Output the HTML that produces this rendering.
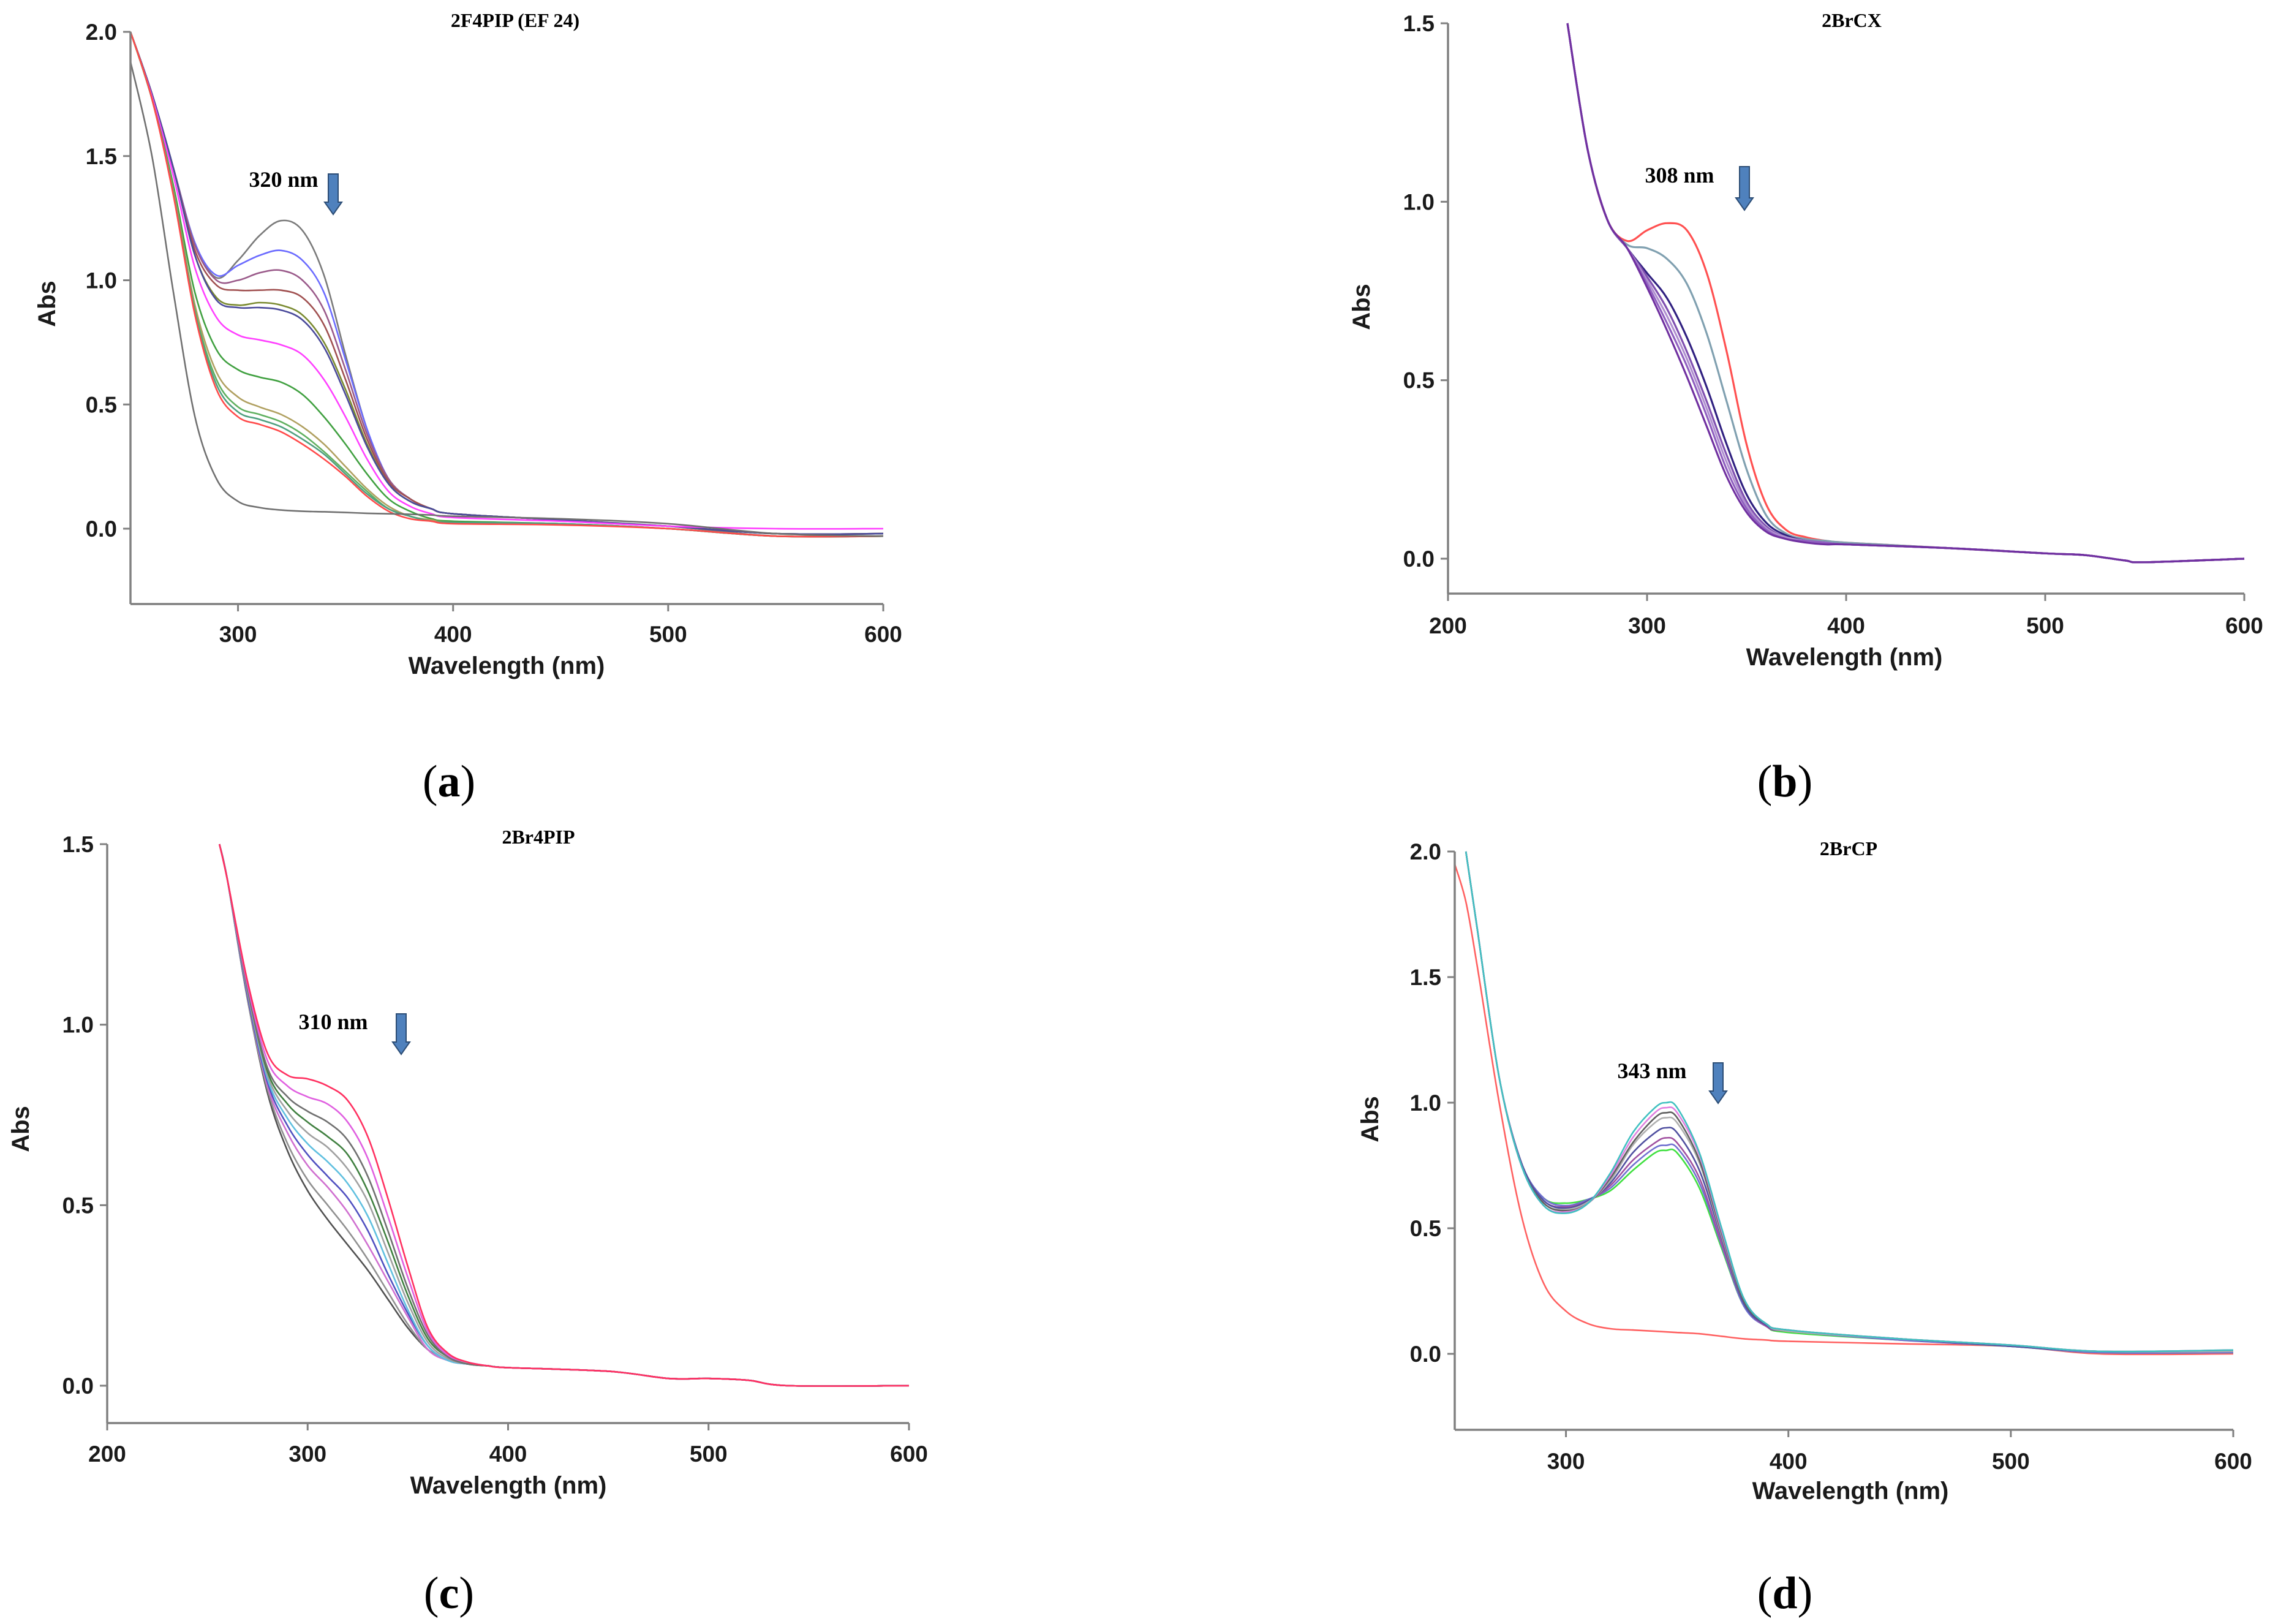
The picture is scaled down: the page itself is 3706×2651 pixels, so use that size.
<!DOCTYPE html>
<html><head><meta charset="utf-8">
<style>
html,body{margin:0;padding:0;background:#fff;}
svg{display:block;}
.tick{font-family:"Liberation Sans",sans-serif;font-weight:bold;font-size:37px;fill:#1a1a1a;}
.axt{font-family:"Liberation Sans",sans-serif;font-weight:bold;font-size:40px;fill:#1a1a1a;}
.ttl{font-family:"Liberation Serif",serif;font-weight:bold;font-size:32px;fill:#000;}
.ann{font-family:"Liberation Serif",serif;font-weight:bold;font-size:36px;fill:#000;}
.plab{font-family:"Liberation Serif",serif;font-size:74px;fill:#000;}
</style></head>
<body>
<svg id="fig" xmlns="http://www.w3.org/2000/svg" width="3706" height="2651" viewBox="0 0 3706 2651"></svg>
<script>
// ---------- Panel (a) 2F4PIP (EF 24) ----------
const waveA = [250,260,270,280,290,300,310,320,330,340,350,360,370,380,390,400,450,500,550,600];
const a1 = [2.0,1.75,1.45,1.15,1.01,1.08,1.18,1.24,1.2,1.02,0.7,0.4,0.2,0.12,0.08,0.06,0.035,0.01,-0.03,-0.03];
const a2 = [2.0,1.75,1.45,1.15,1.02,1.06,1.1,1.12,1.08,0.95,0.68,0.4,0.2,0.12,0.08,0.06,0.035,0.01,-0.02,-0.02];
const a3 = [2.0,1.75,1.45,1.14,1.0,1.0,1.03,1.04,1.0,0.88,0.64,0.38,0.2,0.12,0.08,0.06,0.035,0.01,-0.02,-0.02];
const a4 = [2.0,1.75,1.45,1.12,0.98,0.96,0.96,0.96,0.93,0.82,0.6,0.36,0.19,0.12,0.08,0.06,0.035,0.01,-0.02,-0.02];
const a5 = [2.0,1.75,1.45,1.1,0.93,0.9,0.91,0.9,0.86,0.75,0.56,0.34,0.18,0.11,0.08,0.06,0.035,0.01,-0.02,-0.02];
const a6 = [2.0,1.75,1.45,1.1,0.92,0.89,0.89,0.88,0.84,0.73,0.54,0.33,0.18,0.11,0.08,0.06,0.035,0.01,-0.02,-0.02];
const a7 = [2.0,1.74,1.42,1.05,0.85,0.78,0.76,0.74,0.7,0.6,0.45,0.28,0.15,0.09,0.06,0.045,0.03,0.01,0.0,0.0];
const a8 = [2.0,1.73,1.38,0.95,0.72,0.64,0.61,0.59,0.54,0.45,0.34,0.22,0.12,0.07,0.04,0.03,0.02,0.0,-0.03,-0.03];
const a9 = [2.0,1.73,1.36,0.9,0.63,0.53,0.49,0.46,0.41,0.34,0.25,0.16,0.09,0.05,0.035,0.025,0.02,0.0,-0.03,-0.03];
const a10 = [2.0,1.73,1.35,0.88,0.6,0.49,0.46,0.43,0.38,0.31,0.23,0.15,0.08,0.05,0.03,0.025,0.02,0.0,-0.03,-0.03];
const a11 = [2.0,1.73,1.35,0.87,0.58,0.47,0.44,0.41,0.36,0.3,0.22,0.14,0.08,0.05,0.03,0.025,0.02,0.0,-0.03,-0.03];
const a12 = [2.0,1.73,1.34,0.86,0.56,0.45,0.42,0.39,0.34,0.28,0.21,0.13,0.07,0.04,0.03,0.02,0.015,0.0,-0.03,-0.03];
const a13 = [1.88,1.5,0.95,0.45,0.2,0.11,0.085,0.075,0.07,0.068,0.065,0.062,0.06,0.058,0.055,0.05,0.04,0.02,-0.02,-0.03];
const xTicksA = [300,400,500,600];
const yTicksA = [0.0,0.5,1.0,1.5,2.0];
const yLabelsA = ["0.0","0.5","1.0","1.5","2.0"];

// ---------- Panel (b) 2BrCX ----------
const waveB = [260,270,280,290,300,310,320,330,340,350,360,370,380,390,400,450,500,520,540,550,600];
const b1 = [1.5,1.15,0.95,0.89,0.92,0.94,0.92,0.8,0.58,0.32,0.15,0.08,0.06,0.05,0.045,0.03,0.015,0.01,-0.005,-0.01,0.0];
const b2 = [1.5,1.15,0.95,0.88,0.87,0.84,0.77,0.63,0.44,0.25,0.12,0.07,0.055,0.05,0.045,0.03,0.015,0.01,-0.005,-0.01,0.0];
const b3 = [1.5,1.15,0.95,0.87,0.8,0.73,0.62,0.48,0.32,0.18,0.1,0.065,0.05,0.045,0.04,0.03,0.015,0.01,-0.005,-0.01,0.0];
const b4 = [1.5,1.15,0.95,0.87,0.79,0.7,0.58,0.44,0.29,0.16,0.09,0.06,0.05,0.045,0.04,0.03,0.015,0.01,-0.005,-0.01,0.0];
const b5 = [1.5,1.15,0.95,0.87,0.78,0.68,0.56,0.42,0.27,0.15,0.085,0.06,0.05,0.045,0.04,0.03,0.015,0.01,-0.005,-0.01,0.0];
const b6 = [1.5,1.15,0.95,0.87,0.77,0.66,0.54,0.4,0.25,0.14,0.08,0.055,0.05,0.045,0.04,0.03,0.015,0.01,-0.005,-0.01,0.0];
const b7 = [1.5,1.15,0.95,0.87,0.76,0.64,0.51,0.37,0.23,0.13,0.075,0.055,0.045,0.04,0.04,0.03,0.015,0.01,-0.005,-0.01,0.0];
const xTicksB = [200,300,400,500,600];
const yTicksB = [0.0,0.5,1.0,1.5];
const yLabelsB = ["0.0","0.5","1.0","1.5"];

// ---------- Panel (c) 2Br4PIP ----------
const waveC = [256,260,270,280,290,300,310,320,330,340,350,360,370,380,390,400,450,480,500,520,540,600];
const c1 = [1.5,1.4,1.12,0.92,0.86,0.85,0.83,0.79,0.69,0.52,0.33,0.16,0.09,0.065,0.055,0.05,0.04,0.02,0.02,0.015,0.0,0.0];
const c2 = [1.5,1.4,1.11,0.9,0.83,0.8,0.78,0.73,0.63,0.47,0.3,0.15,0.085,0.065,0.055,0.05,0.04,0.02,0.02,0.015,0.0,0.0];
const c3 = [1.5,1.4,1.1,0.88,0.8,0.76,0.73,0.68,0.58,0.43,0.27,0.14,0.08,0.06,0.055,0.05,0.04,0.02,0.02,0.015,0.0,0.0];
const c4 = [1.5,1.4,1.1,0.87,0.78,0.73,0.69,0.64,0.54,0.4,0.25,0.13,0.08,0.06,0.055,0.05,0.04,0.02,0.02,0.015,0.0,0.0];
const c5 = [1.5,1.4,1.09,0.86,0.76,0.7,0.66,0.6,0.51,0.37,0.23,0.12,0.075,0.06,0.055,0.05,0.04,0.02,0.02,0.015,0.0,0.0];
const c6 = [1.5,1.4,1.09,0.85,0.74,0.67,0.62,0.56,0.47,0.34,0.21,0.11,0.07,0.06,0.055,0.05,0.04,0.02,0.02,0.015,0.0,0.0];
const c7 = [1.5,1.4,1.08,0.84,0.72,0.64,0.58,0.52,0.43,0.31,0.2,0.11,0.07,0.06,0.055,0.05,0.04,0.02,0.02,0.015,0.0,0.0];
const c8 = [1.5,1.4,1.08,0.83,0.7,0.61,0.55,0.48,0.39,0.29,0.19,0.1,0.07,0.06,0.055,0.05,0.04,0.02,0.02,0.015,0.0,0.0];
const c9 = [1.5,1.4,1.07,0.82,0.67,0.57,0.5,0.43,0.35,0.26,0.17,0.1,0.07,0.06,0.055,0.05,0.04,0.02,0.02,0.015,0.0,0.0];
const c10 = [1.5,1.4,1.07,0.81,0.65,0.54,0.46,0.39,0.32,0.24,0.16,0.1,0.07,0.06,0.055,0.05,0.04,0.02,0.02,0.015,0.0,0.0];
const xTicksC = [200,300,400,500,600];
const yTicksC = [0.0,0.5,1.0,1.5];
const yLabelsC = ["0.0","0.5","1.0","1.5"];

// ---------- Panel (d) 2BrCP ----------
const waveD = [255,260,270,280,290,300,310,320,330,340,345,350,360,370,380,390,400,450,500,540,600];
const d1 = [2.0,1.7,1.1,0.75,0.59,0.56,0.6,0.72,0.88,0.98,1.0,0.98,0.8,0.5,0.22,0.12,0.095,0.06,0.035,0.01,0.015];
const d2 = [2.0,1.7,1.1,0.75,0.59,0.565,0.6,0.71,0.86,0.96,0.98,0.96,0.79,0.49,0.22,0.12,0.095,0.06,0.035,0.01,0.015];
const d3 = [2.0,1.7,1.1,0.75,0.6,0.57,0.6,0.7,0.84,0.94,0.96,0.94,0.77,0.48,0.21,0.12,0.095,0.06,0.035,0.01,0.015];
const d4 = [2.0,1.7,1.1,0.75,0.6,0.575,0.605,0.69,0.83,0.92,0.94,0.92,0.76,0.47,0.21,0.12,0.09,0.06,0.035,0.01,0.01];
const d5 = [2.0,1.7,1.1,0.76,0.61,0.58,0.61,0.68,0.8,0.88,0.9,0.88,0.73,0.46,0.2,0.115,0.09,0.06,0.03,0.01,0.01];
const d6 = [2.0,1.7,1.1,0.76,0.61,0.585,0.61,0.67,0.77,0.84,0.86,0.84,0.7,0.44,0.2,0.11,0.09,0.06,0.03,0.01,0.01];
const d7 = [2.0,1.7,1.1,0.76,0.62,0.59,0.615,0.66,0.75,0.82,0.83,0.82,0.68,0.43,0.19,0.11,0.09,0.055,0.03,0.005,0.005];
const d8 = [2.0,1.7,1.1,0.76,0.62,0.6,0.615,0.65,0.73,0.8,0.81,0.8,0.66,0.42,0.19,0.11,0.085,0.055,0.03,0.005,0.005];
const waveDRef = [250,255,260,270,280,290,300,310,320,330,340,350,360,370,380,390,400,450,500,540,600];
const dRef = [1.95,1.8,1.55,1.0,0.55,0.28,0.17,0.12,0.1,0.095,0.09,0.085,0.08,0.07,0.06,0.055,0.05,0.04,0.03,0.0,0.0];
const xTicksD = [300,400,500,600];
const yTicksD = [0.0,0.5,1.0,1.5,2.0];
const yLabelsD = ["0.0","0.5","1.0","1.5","2.0"];

const NS = "http://www.w3.org/2000/svg";
const svg = document.getElementById("fig");
function mk(tag, attrs, parent){
  const e = document.createElementNS(NS, tag);
  for (const k in attrs) e.setAttribute(k, attrs[k]);
  (parent||svg).appendChild(e);
  return e;
}
function smooth(pts){
  let d = "M" + pts[0][0].toFixed(1) + "," + pts[0][1].toFixed(1);
  for (let i = 0; i < pts.length - 1; i++){
    const p0 = pts[Math.max(0,i-1)], p1 = pts[i], p2 = pts[i+1], p3 = pts[Math.min(pts.length-1,i+2)];
    const c1x = p1[0] + (p2[0]-p0[0])/6, c1y = p1[1] + (p2[1]-p0[1])/6;
    const c2x = p2[0] - (p3[0]-p1[0])/6, c2y = p2[1] - (p3[1]-p1[1])/6;
    d += " C" + c1x.toFixed(1)+","+c1y.toFixed(1)+" "+c2x.toFixed(1)+","+c2y.toFixed(1)+" "+p2[0].toFixed(1)+","+p2[1].toFixed(1);
  }
  return d;
}

const panels = [
 {id:"a", title:"2F4PIP (EF 24)", titleX:841, titleY:44, x0:213, x1:1442, xmin:250, xmax:600, yTop:52, y0v:2.0, yZero:863, yBot:986, ymin:-0.3,
  xTicks:xTicksA, yTicks:yTicksA, yLabels:yLabelsA, xLabY:1048, absX:76, absY:496, wlX:827, wlY:1100, lw:2.6,
  series:[[waveA,a1,"#7a7a7a"],[waveA,a2,"#6b6bff"],[waveA,a3,"#9a5a8a"],[waveA,a4,"#a05050"],[waveA,a5,"#7a8a30"],[waveA,a6,"#4a4a9a"],[waveA,a7,"#ff40ff"],[waveA,a8,"#40a040"],[waveA,a9,"#b0a060"],[waveA,a10,"#60b060"],[waveA,a11,"#50a080"],[waveA,a12,"#ff4a4a"],[waveA,a13,"#707070"]],
  ann:"320 nm", annX:463, annY:305, arX:544, arY1:284, arY2:350, plab:"a", plX:733, plY:1300},
 {id:"b", title:"2BrCX", titleX:3023, titleY:44, x0:2364, x1:3664, xmin:200, xmax:600, yTop:38, y0v:1.5, yZero:912, yBot:969, ymin:-0.1,
  xTicks:xTicksB, yTicks:yTicksB, yLabels:yLabelsB, xLabY:1034, absX:2222, absY:501, wlX:3011, wlY:1086, lw:3.2,
  series:[[waveB,b1,"#ff5050"],[waveB,b2,"#80a0b0"],[waveB,b3,"#302080"],[waveB,b4,"#8050b0"],[waveB,b5,"#b090d0"],[waveB,b6,"#9060c0"],[waveB,b7,"#7030a0"]],
  ann:"308 nm", annX:2742, annY:298, arX:2848, arY1:272, arY2:343, plab:"b", plX:2914, plY:1300},
 {id:"c", title:"2Br4PIP", titleX:879, titleY:1377, x0:175, x1:1484, xmin:200, xmax:600, yTop:1378, y0v:1.5, yZero:2262, yBot:2323, ymin:-0.1,
  xTicks:xTicksC, yTicks:yTicksC, yLabels:yLabelsC, xLabY:2386, absX:33, absY:1843, wlX:830, wlY:2438, lw:2.6,
  series:[[waveC,c10,"#505050"],[waveC,c9,"#909090"],[waveC,c8,"#d070d0"],[waveC,c7,"#5050c0"],[waveC,c6,"#60c0e0"],[waveC,c5,"#a0a0a0"],[waveC,c4,"#408040"],[waveC,c3,"#707070"],[waveC,c2,"#e060e0"],[waveC,c1,"#ff3060"]],
  ann:"310 nm", annX:544, annY:1680, arX:655, arY1:1655, arY2:1721, plab:"c", plX:733, plY:2625},
 {id:"d", title:"2BrCP", titleX:3018, titleY:1396, x0:2375, x1:3646, xmin:250, xmax:600, yTop:1390, y0v:2.0, yZero:2210, yBot:2334, ymin:-0.3,
  xTicks:xTicksD, yTicks:yTicksD, yLabels:yLabelsD, xLabY:2398, absX:2236, absY:1827, wlX:3021, wlY:2447, lw:2.6,
  series:[[waveDRef,dRef,"#ff6060"],[waveD,d8,"#40e040"],[waveD,d7,"#7070d0"],[waveD,d6,"#a050a0"],[waveD,d5,"#5050a0"],[waveD,d4,"#b0b0b0"],[waveD,d3,"#606060"],[waveD,d2,"#e080e0"],[waveD,d1,"#40c0c0"]],
  ann:"343 nm", annX:2697, annY:1760, arX:2805, arY1:1735, arY2:1801, plab:"d", plX:2914, plY:2625}
];

panels.forEach(p => {
  const g = mk("g", {});
  
  
  const X = v => p.x0 + (v - p.xmin) / (p.xmax - p.xmin) * (p.x1 - p.x0);
  const Y = v => p.yZero - v / p.y0v * (p.yZero - p.yTop);
  p.series.forEach((s, i) => {
    const pts = s[0].map((w, k) => [X(w), Y(s[1][k])]);
    const path = mk("path", {d: smooth(pts), fill:"none", stroke:s[2], "stroke-width":p.lw}, g);
    
    
  });
  const ya = mk("line", {x1:p.x0, y1:p.yTop, x2:p.x0, y2:p.yBot, stroke:"#808080", "stroke-width":3.5}, g);
  
  
  const xa = mk("line", {x1:p.x0, y1:p.yBot, x2:p.x1, y2:p.yBot, stroke:"#808080", "stroke-width":3.5}, g);
  
  
  p.yTicks.forEach((v, i) => {
    mk("line", {x1:p.x0-12, y1:Y(v), x2:p.x0, y2:Y(v), stroke:"#808080", "stroke-width":3}, g);
    const t = mk("text", {x:p.x0-22, y:Y(v)+13, "text-anchor":"end", class:"tick"}, g);
    t.textContent = p.yLabels[i];
    
    
  });
  p.xTicks.forEach(v => {
    mk("line", {x1:X(v), y1:p.yBot, x2:X(v), y2:p.yBot+12, stroke:"#808080", "stroke-width":3}, g);
    const t = mk("text", {x:X(v), y:p.xLabY, "text-anchor":"middle", class:"tick"}, g);
    t.textContent = String(v);
    
    
  });
  const ab = mk("text", {x:p.absX, y:p.absY, "text-anchor":"middle", class:"axt", transform:"rotate(-90 "+p.absX+" "+p.absY+")", dy:"14"}, g);
  ab.textContent = "Abs";
  
  
  const wl = mk("text", {x:p.wlX, y:p.wlY, "text-anchor":"middle", class:"axt"}, g);
  wl.textContent = "Wavelength (nm)";
  
  
  const tt = mk("text", {x:p.titleX, y:p.titleY, "text-anchor":"middle", class:"ttl"}, g);
  tt.textContent = p.title;
  
  
  const an = mk("text", {x:p.annX, y:p.annY, "text-anchor":"middle", class:"ann"}, g);
  an.textContent = p.ann;
  
  
  const ax = p.arX;
  const arrow = mk("path", {d:"M"+(ax-8)+","+p.arY1+" L"+(ax+8)+","+p.arY1+" L"+(ax+8)+","+(p.arY2-20)+" L"+(ax+14)+","+(p.arY2-20)+" L"+ax+","+p.arY2+" L"+(ax-14)+","+(p.arY2-20)+" L"+(ax-8)+","+(p.arY2-20)+" Z", fill:"#4f81bd", stroke:"#2c4d75", "stroke-width":2}, g);
  
  
  const pl = mk("text", {x:p.plX, y:p.plY, "text-anchor":"middle", class:"plab"}, g);
  pl.innerHTML = '(<tspan font-weight="bold">' + p.plab + '</tspan>)';
  
  
});
</script>
</body></html>
